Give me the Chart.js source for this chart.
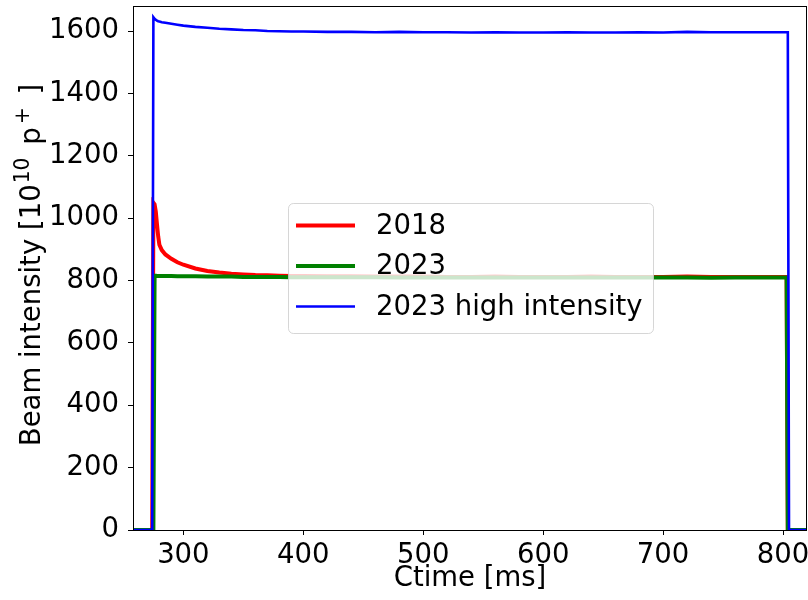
<!DOCTYPE html>
<html>
<head>
<meta charset="utf-8">
<script src="https://cdn.jsdelivr.net/npm/chart.js@4/dist/chart.umd.min.js"></script>
<style>
	html, body { margin: 0; padding: 0; background: #fff; }
	canvas { display: block; }
</style>
</head>
<body>
<canvas id="beam" width="808" height="600"></canvas>
<script>
// sample times [ms], shared by all three curves
const ctime = [
	258, 274, 275, 276, 277, 278, 279, 280, 282, 285, 290, 295, 300, 310, 320,
	330, 340, 350, 360, 370, 380, 390, 400, 420, 440, 460, 480, 500, 520, 540,
	560, 580, 600, 620, 640, 660, 680, 700, 720, 740, 760, 780, 800, 803, 804,
	805, 806, 820,
];

// beam intensity [1e10 p+]
const intensity2018 = [
	0, 0, 1050, 1045, 1022, 980, 942, 915, 898, 884, 870, 859, 851, 839, 831,
	826, 822, 820, 818, 817, 816, 815, 815, 814, 814, 813, 813, 813, 812, 812,
	813, 812, 812, 812, 813, 812, 812, 812, 813, 812, 812, 812, 812, 812, 0,
	0, 0, 0,
];

const intensity2023 = [
	0, 0, 0, 816, 816, 815, 815, 815, 815, 815, 815, 814, 814, 814, 813,
	813, 813, 812, 812, 812, 812, 811, 811, 811, 811, 811, 810, 810, 810, 810,
	810, 810, 810, 810, 810, 810, 810, 810, 810, 809, 810, 810, 810, 810, 0,
	0, 0, 0,
];

const intensity2023High = [
	0, 0, 1645, 1640, 1637, 1634, 1632, 1631, 1629, 1627, 1624, 1621, 1618, 1614, 1611,
	1608, 1606, 1604, 1603, 1601, 1600, 1599, 1599, 1598, 1598, 1597, 1598, 1597, 1597, 1596,
	1597, 1596, 1596, 1597, 1596, 1596, 1597, 1596, 1598, 1597, 1597, 1597, 1597, 1597, 1597,
	0, 0, 0,
];

const seriesLabels = ["2018", "2023", "2023 high intensity"];

const xTicks = { min: 258, max: 820, step: 100 };
const yTicks = { min: 0, max: 1681, step: 200 };

const FONT = "'DejaVu Sans', 'Liberation Sans', sans-serif";
const FONT_SIZE = 27.5;

const toPoints = (values) => values.map((y, i) => ({ x: ctime[i], y }));

// black box round the plot area, like a matplotlib axes frame
const framePlugin = {
	id: "frame",
	afterDatasetsDraw: (chart) => {
		const { ctx, chartArea: a } = chart;
		ctx.save();
		ctx.strokeStyle = "#000";
		ctx.lineWidth = 1;
		ctx.strokeRect(
			Math.round(a.left) + 0.5,
			Math.round(a.top) + 0.5,
			Math.round(a.right - a.left) - 1,
			Math.round(a.bottom - a.top)
		);
		ctx.restore();
	},
};

// rotated y title with raised exponents
const yTitlePlugin = {
	id: "yTitle",
	afterDraw: (chart) => {
		const { ctx } = chart;
		const sup = FONT_SIZE * 0.74;
		const parts = [
			{ text: "Beam intensity [10", size: FONT_SIZE, rise: 0, gap: 1 },
			{ text: "10", size: sup, rise: 11, gap: 4 },
			{ text: " p", size: FONT_SIZE, rise: 0, gap: 3 },
			{ text: "+", size: sup, rise: 11, gap: 4 },
			{ text: " ]", size: FONT_SIZE, rise: 0, gap: 0 },
		];
		ctx.save();
		ctx.fillStyle = "#000";
		ctx.textBaseline = "alphabetic";
		ctx.textAlign = "left";
		let total = 0;
		parts.forEach((p) => {
			ctx.font = `${p.size}px ${FONT}`;
			p.width = ctx.measureText(p.text).width;
			total += p.width + p.gap;
		});
		ctx.translate(40, 265);
		ctx.rotate(-Math.PI / 2);
		let x = -total / 2;
		parts.forEach((p) => {
			ctx.font = `${p.size}px ${FONT}`;
			ctx.fillText(p.text, x, -p.rise);
			x += p.width + p.gap;
		});
		ctx.restore();
	},
};

// framed legend box sitting in the middle of the plot
const legendBoxPlugin = {
	id: "legendBox",
	afterDraw: (chart) => {
		const { ctx } = chart;
		const box = { x: 288.5, y: 203.5, w: 365, h: 130, r: 5 };
		ctx.save();
		ctx.beginPath();
		ctx.roundRect(box.x, box.y, box.w, box.h, box.r);
		ctx.fillStyle = "rgba(255, 255, 255, 0.8)";
		ctx.fill();
		ctx.strokeStyle = "rgba(204, 204, 204, 0.8)";
		ctx.lineWidth = 1;
		ctx.stroke();

		ctx.font = `${FONT_SIZE}px ${FONT}`;
		ctx.textBaseline = "middle";
		ctx.fillStyle = "#000";
		chart.data.datasets.forEach((set, idx) => {
			const y = 225.5 + idx * 40.5;
			ctx.beginPath();
			ctx.moveTo(296, y);
			ctx.lineTo(355, y);
			ctx.strokeStyle = set.borderColor;
			ctx.lineWidth = set.borderWidth;
			ctx.stroke();
			ctx.fillText(set.label, 376, y + 1);
		});
		ctx.restore();
	},
};

const lineSet = (label, values, color, width, order) => ({
	label,
	data: toPoints(values),
	borderColor: color,
	backgroundColor: color,
	borderWidth: width,
	pointRadius: 0,
	tension: 0,
	fill: false,
	clip: 0,
	order,
});

const tickFont = { family: FONT, size: FONT_SIZE };

// no thousands separator on tick labels
const plainTick = (value) => String(value);

new Chart(document.getElementById("beam").getContext("2d"), {
	type: "line",
	data: {
		datasets: [
			lineSet(seriesLabels[0], intensity2018, "#ff0000", 4, 3),
			lineSet(seriesLabels[1], intensity2023, "#008000", 4, 2),
			lineSet(seriesLabels[2], intensity2023High, "#0000ff", 2.6, 1),
		],
	},
	options: {
		responsive: false,
		animation: false,
		devicePixelRatio: 1,
		layout: { padding: { top: 6, right: 1, left: 0, bottom: 0 } },
		plugins: {
			legend: { display: false },
			tooltip: { enabled: false },
		},
		scales: {
			x: {
				type: "linear",
				min: xTicks.min,
				max: xTicks.max,
				grid: {
					drawOnChartArea: false,
					drawTicks: true,
					tickLength: 5,
					color: "#000",
				},
				border: { display: false },
				ticks: {
					stepSize: xTicks.step,
					includeBounds: false,
					color: "#000",
					padding: 4,
					maxRotation: 0,
					font: tickFont,
					callback: plainTick,
				},
				title: {
					display: true,
					text: "Ctime [ms]",
					color: "#000",
					font: tickFont,
					padding: { top: 0, bottom: 5 },
				},
				afterFit: (scale) => {
					scale.height = 70;
					scale.paddingLeft = 0;
					scale.paddingRight = 0;
				},
			},
			y: {
				type: "linear",
				min: yTicks.min,
				max: yTicks.max,
				grid: {
					drawOnChartArea: false,
					drawTicks: true,
					tickLength: 5,
					color: "#000",
				},
				border: { display: false },
				ticks: {
					stepSize: yTicks.step,
					includeBounds: false,
					color: "#000",
					padding: 9,
					font: tickFont,
					callback: plainTick,
				},
				afterFit: (scale) => {
					scale.width = 133;
					scale.paddingTop = 0;
					scale.paddingBottom = 0;
				},
			},
		},
	},
	plugins: [framePlugin, yTitlePlugin, legendBoxPlugin],
});
</script>
</body>
</html>
